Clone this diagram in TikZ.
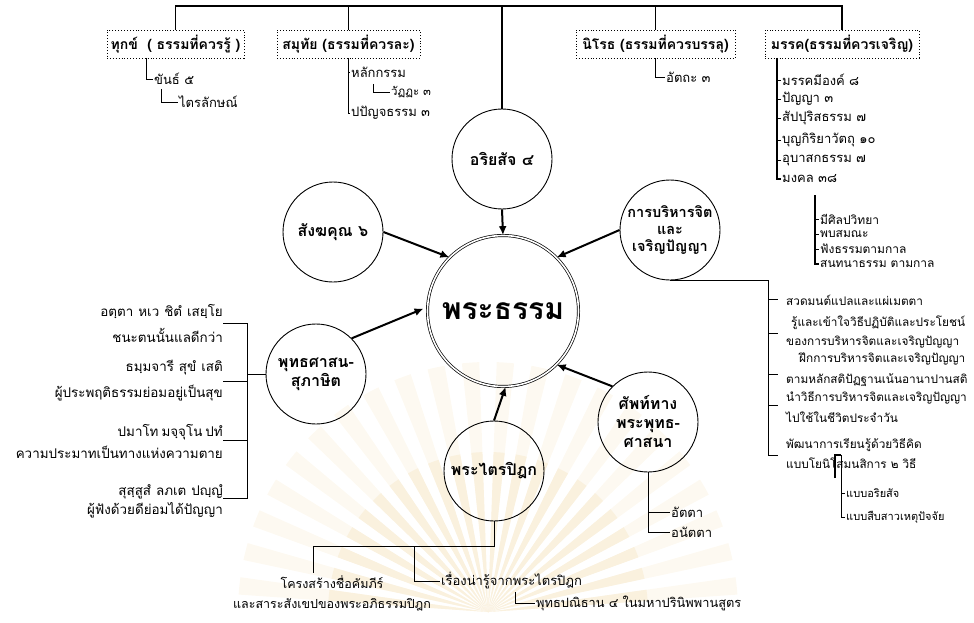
\documentclass[tikz,border=0pt]{standalone}
\usepackage{fontspec}
\setmainfont[Script=Thai]{Loma}
\usetikzlibrary{arrows.meta}
\definecolor{rayA}{RGB}{253,249,241}
\definecolor{rayB}{RGB}{250,241,222}
\begin{document}
\begin{tikzpicture}[x=1pt,y=-1pt,
 ln/.style={line width=0.8pt},
 tk/.style={line width=1.2pt},
 arr/.style={line width=2pt,-{Latex[length=9pt,width=8pt]}},
 circ/.style={circle,draw,line width=0.9pt,minimum size=100pt,inner sep=0pt},
 ctext/.style={align=center,inner sep=0pt,font=\bfseries\fontsize{16}{19}\selectfont},
 tbox/.style={draw,dotted,line width=0.9pt,minimum height=28pt,inner sep=1pt,font=\bfseries\fontsize{14}{16}\selectfont},
 item/.style={anchor=west,inner sep=1pt,font=\fontsize{13}{15}\selectfont},
 litem/.style={anchor=west,inner sep=1pt,font=\fontsize{11.8}{14}\selectfont},
 ritem/.style={anchor=east,inner sep=1pt,font=\fontsize{13.4}{15}\selectfont},
 sitem/.style={anchor=west,inner sep=1pt,font=\fontsize{11.5}{13}\selectfont}]
\useasboundingbox (0,0) rectangle (974,623);
% faint watermark rays
\begin{scope}
\clip (0,0) rectangle (974,623);
\foreach \a in {184,192,...,352}
  \fill[rayA] (488,612) -- ++(\a:250) arc[start angle=\a,end angle=\a+4,radius=250] -- cycle;
\foreach \a in {184,192,...,352}
  \fill[rayB] (488,612) -- ++(\a:160) arc[start angle=\a,end angle=\a+4,radius=160] -- cycle;
\end{scope}
% top boxes
\node[tbox,minimum width=137pt] (dukkha) at (175.5,44) {ทุกข์ \ ( ธรรมที่ควรรู้ )};
\node[tbox,minimum width=143pt] (samuthai) at (348.5,44) {สมุทัย (ธรรมที่ควรละ)};
\node[tbox,minimum width=159pt] (nirodh) at (655.5,44) {นิโรธ (ธรรมที่ควรบรรลุ)};
\node[tbox,minimum width=154pt] (magga) at (842,44) {มรรค(ธรรมที่ควรเจริญ)};
% circles
\node[circ] (ariya) at (502,159) {};
\node[ctext] at (ariya) {อริยสัจ ๔};
\node[circ] (sangha) at (333,232) {};
\node[ctext] at (sangha) {สังฆคุณ ๖};
\node[circ] (borihan) at (670,230) {};
\node[ctext,font=\bfseries\fontsize{14.5}{17}\selectfont] at (borihan) {การบริหารจิต\\และ\\เจริญปัญญา};
\node[circle,draw,double,double distance=1.6pt,line width=0.7pt,minimum size=151pt,inner sep=0pt] (dhamma) at (503,311) {};
\node[font=\bfseries\fontsize{30}{36}\selectfont] at (dhamma) {พระธรรม};
\node[circ] (suphasit) at (316,374) {};
\node[ctext] at (suphasit) {พุทธศาสน-\\สุภาษิต};
\node[circ] (tripitaka) at (494,471) {};
\node[ctext] at (tripitaka) {พระไตรปิฎก};
\node[circ] (sap) at (648,422) {};
\node[ctext] at (sap) {ศัพท์ทาง\\พระพุทธ-\\ศาสนา};
% top connector
\coordinate (topy) at (0,6);
\draw[tk] (dukkha.north) |- (topy -| magga.north) -- (magga.north);
\draw[tk] (samuthai.north) -- (samuthai.north |- topy);
\draw[tk] (nirodh.north) -- (nirodh.north |- topy);
\draw[tk] (ariya.north) -- (ariya.north |- topy);
% arrows
\draw[arr] (ariya.south) -- (dhamma.north);
\draw[arr] (sangha.east) -- (dhamma.135);
\draw[arr] (borihan.west) -- (dhamma.45);
\draw[arr,shorten >=4pt] (suphasit.45) -- (dhamma.177);
\draw[arr] (tripitaka.north) -- (dhamma.-88);
\draw[arr] (sap.135) -- (dhamma.-45);
% dukkha tree
\node[item] (khan) at (153,79) {ขันธ์ ๕};
\node[item] (trai) at (178,102) {ไตรลักษณ์};
\draw[ln] (146,58) |- (khan.west);
\draw[ln] (161,89) |- (trai.west);
% samuthai tree
\node[item] (lak) at (350,72) {หลักกรรม};
\node[sitem] (wat) at (390,92) {วัฏฏะ ๓};
\node[item] (papan) at (350,113) {ปปัญจธรรม ๓};
\draw[ln] (samuthai.south) |- (papan.west);
\draw[ln] (samuthai.south |- lak.west) -- (lak.west);
\draw[ln] (373,84) |- (wat.west);
% nirodh tree
\node[item] (attha) at (665,77) {อัตถะ ๓};
\draw[ln] (nirodh.south) |- (attha.west);
% magga tree
\node[item] (m1) at (781,80) {มรรคมีองค์ ๘};
\node[item] (m2) at (781,99) {ปัญญา ๓};
\node[item] (m3) at (781,118) {สัปปุริสธรรม ๗};
\node[item] (m4) at (781,140) {บุญกิริยาวัตถุ ๑๐};
\node[item] (m5) at (781,160) {อุบาสกธรรม ๗};
\node[item] (m6) at (781,179) {มงคล ๓๘};
\coordinate (mx) at (777,58);
\draw[tk] (mx) |- (m6.west);
\foreach \i in {1,...,5} \draw[ln] (mx |- m\i.west) -- (m\i.west);
\node[sitem,font=\fontsize{12}{13}\selectfont] (g1) at (819,219) {มีศิลปวิทยา};
\node[sitem,font=\fontsize{12}{13}\selectfont] (g2) at (819,234) {พบสมณะ};
\node[sitem,font=\fontsize{12}{13}\selectfont] (g3) at (819,249) {ฟังธรรมตามกาล};
\node[sitem,font=\fontsize{12}{13}\selectfont] (g4) at (819,264) {สนทนาธรรม ตามกาล};
\coordinate (gx) at (815,195);
\draw[tk] (gx) |- (g4.west);
\foreach \i in {1,2,3} \draw[ln] (gx |- g\i.west) -- (g\i.west);
% left proverbs
\node[ritem] (p1) at (224,312) {อตฺตา\hspace{5pt}หเว\hspace{5pt}ชิตํ\hspace{5pt}เสยฺโย};
\node[ritem] (p2) at (224,335) {ชนะตนนั้นแลดีกว่า};
\node[ritem] (p3) at (224,368) {ธมฺมจารี\hspace{5pt}สุขํ\hspace{5pt}เสติ};
\node[ritem] (p4) at (224,393) {ผู้ประพฤติธรรมย่อมอยู่เป็นสุข};
\node[ritem] (p5) at (224,432) {ปมาโท\hspace{3pt}มจฺจุโน\hspace{3pt}ปทํ};
\node[ritem] (p6) at (224,452) {ความประมาทเป็นทางแห่งความตาย};
\node[ritem] (p7) at (224,492) {สุสฺสูสํ\hspace{5pt}ลภเต\hspace{5pt}ปญฺญํ};
\node[ritem] (p8) at (224,510) {ผู้ฟังด้วยดีย่อมได้ปัญญา};
\coordinate (bx) at (247,0);
\draw[ln] (suphasit.west) -- (suphasit.west -| bx);
\draw[ln] (223,323) -| (247,498) -- (223,498);
\draw[ln] (223,381) -- (247,381);
\draw[ln] (223,440) -- (247,440);
% borihan bracket
\node[litem] (r1) at (785,300) {สวดมนต์แปลและแผ่เมตตา};
\node[litem] (r2) at (790,323) {รู้และเข้าใจวิธีปฏิบัติและประโยชน์};
\node[litem] (r3) at (785,342) {ของการบริหารจิตและเจริญปัญญา};
\node[litem] (r4) at (798,359) {ฝึกการบริหารจิตและเจริญปัญญา};
\node[litem] (r5) at (785,380) {ตามหลักสติปัฏฐานเน้นอานาปานสติ};
\node[litem] (r6) at (785,398) {นำวิธีการบริหารจิตและเจริญปัญญา};
\node[litem] (r7) at (785,417) {ไปใช้ในชีวิตประจำวัน};
\node[litem] (r8) at (785,445) {พัฒนาการเรียนรู้ด้วยวิธีคิด};
\node[litem] (r9) at (785,463) {แบบโยนิโสมนสิการ ๒ วิธี};
\coordinate (rx) at (768,0);
\draw[ln] (borihan.south) -- (borihan.south -| rx) -- (768,455) -- (778,455);
\foreach \yy in {299,333,374,405} \draw[ln] (768,\yy) -- (778,\yy);
\node[sitem,font=\fontsize{11}{13}\selectfont] (y1) at (845,493) {แบบอริยสัจ};
\node[sitem,font=\fontsize{11}{13}\selectfont] (y2) at (845,517) {แบบสืบสาวเหตุปัจจัย};
\draw[tk] (835,478) -- (835,455) -- (841,455);
\draw[ln] (841,455) |- (y2.west);
\draw[ln] (841,493) -- (y1.west);
% sap tree
\node[item] (atta) at (670,512) {อัตตา};
\node[item] (anatta) at (670,532) {อนัตตา};
\draw[ln] (sap.south) |- (anatta.west);
\draw[ln] (sap.south |- atta.west) -- (atta.west);
% tripitaka tree
\node[item,anchor=center,align=center,font=\fontsize{12.5}{20}\selectfont] (khrong) at (332,593) {โครงสร้างชื่อคัมภีร์\\และสาระสังเขปของพระอภิธรรมปิฎก};
\node[item] (rueang) at (440,581) {เรื่องน่ารู้จากพระไตรปิฎก};
\node[sitem,font=\fontsize{12.8}{14}\selectfont] (phut) at (535,603) {พุทธปณิธาน ๔\hspace{4pt}ในมหาปรินิพพานสูตร};
\coordinate (ty) at (0,546);
\draw[ln] (tripitaka.south) -- (tripitaka.south |- ty) -| (313,573);
\draw[ln] (414,546) |- (rueang.west);
\draw[ln] (515,592) |- (phut.west);
\end{tikzpicture}
\end{document}
